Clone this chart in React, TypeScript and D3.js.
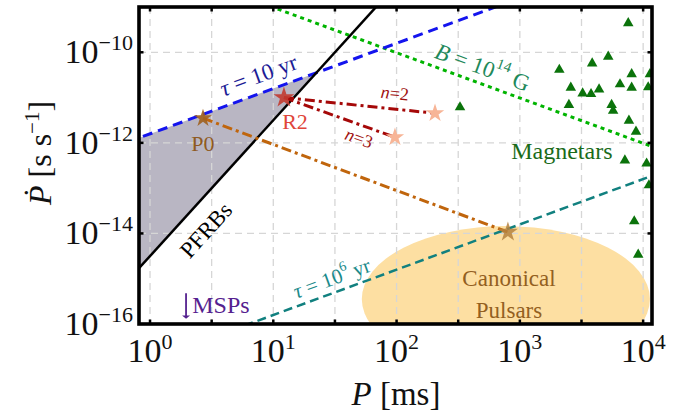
import React from 'react';
import * as d3 from 'd3';

// axis ranges (P in ms, Pdot in s/s)
const xDomain = [0.814, 11800];
const yDomain = [1e-16, 1e-9];
const xGridP = [1, 3.162, 10, 31.62, 100, 316.2, 1000, 3162, 10000];
const xTickExp = [0, 1, 2, 3, 4];
const yGridPdot = [1e-14, 1e-12, 1e-10];
const yTickExp = [-16, -14, -12, -10];

// reference lines, endpoints
const tau10P = [0.5, 1000];
const tau10Pdot = [7.9e-13, 1.58e-9];
const tau6P = [0.5, 20000];
const tau6Pdot = [7.9e-18, 3.17e-13];
const bFieldP = [1, 20000];
const bFieldPdot = [9.77e-9, 4.9e-13];
const pfrbP = [0.5, 100];
const pfrbPdot = [3.95e-16, 3.16e-9];
const shadeP = [0.5, 0.5, 22.4];
const shadePdot = [3.95e-16, 7.9e-13, 3.55e-11];

// canonical pulsar blob: left, centre, right in P; centre and top in Pdot
const blobP = [52, 770, 11300];
const blobPdot = [3.55e-16, 1.45e-14];

// evolution tracks
const p0TrackP = [2.69, 800];
const p0TrackPdot = [3.5e-12, 1.07e-14];
const n2TrackP = [12.2, 205];
const n2TrackPdot = [1.0e-11, 4.5e-12];
const n3TrackP = [12.2, 97];
const n3TrackPdot = [1.0e-11, 1.33e-12];

// magnetars
const magP = [7570, 5210, 3860, 2090, 8070, 11350, 2590, 6490, 8070, 10990, 3230, 3780,
  4390, 2500, 5550, 5710, 327, 7670, 8750, 7110, 10670, 11140, 8470, 9120];
const magPdot = [4.4e-10, 8.0e-11, 5.7e-11, 4.1e-11, 3.3e-11, 3.3e-11, 1.66e-11, 1.97e-11,
  1.66e-11, 1.69e-11, 1.24e-11, 1.2e-11, 1.52e-11, 6.9e-12, 6.9e-12, 5.1e-12, 6.1e-12,
  3.1e-12, 1.77e-12, 4.1e-13, 3.5e-13, 1.16e-13, 1.86e-14, 3.4e-15];

const FONT = '"Liberation Serif", "DejaVu Serif", serif';
const L = 139, R = 652, T = 7, B = 324;

const x = d3.scaleLog().domain(xDomain).range([L, R]);
const y = d3.scaleLog().domain(yDomain).range([B, T]);
const pts = (P: number[], D: number[]) => P.map((p, i) => [x(p), y(D[i])] as [number, number]);
const line = d3.line();
const angle = (P: number[], D: number[]) => {
  const [a, b] = pts(P, D);
  return (Math.atan2(b[1] - a[1], b[0] - a[0]) * 180) / Math.PI;
};
const star = d3.symbol().type(d3.symbolStar);
const tri = d3.symbol().type(d3.symbolTriangle).size(48)();

const Label = ({ p, d, rot = 0, color, size, children, anchor = 'middle' }: any) => (
  <text
    transform={`translate(${x(p)},${y(d)}) rotate(${rot})`}
    textAnchor={anchor}
    dominantBaseline="central"
    fill={color}
    fontSize={size}
    fontFamily={FONT}
  >
    {children}
  </text>
);

export default function App() {
  const tauAng = angle(tau10P, tau10Pdot);
  const bAng = angle(bFieldP, bFieldPdot);
  const pfrbAng = angle(pfrbP, pfrbPdot);
  const n3Ang = angle(n3TrackP, n3TrackPdot);
  const n2Ang = angle(n2TrackP, n2TrackPdot);

  const cx = x(blobP[1]);
  const rx = (x(blobP[2]) - x(blobP[0])) / 2;
  const cy = y(blobPdot[0]);
  const ry = cy - y(blobPdot[1]);

  return (
    <svg width={694} height={418} style={{ position: 'absolute', left: 0, top: 0 }}>
      <defs>
        <clipPath id="plot">
          <rect x={L} y={T} width={R - L} height={B - T} />
        </clipPath>
      </defs>
      <g clipPath="url(#plot)">
        <ellipse cx={cx} cy={cy} rx={rx} ry={ry} fill="#fddfa2" />
        <path d={line(pts(shadeP, shadePdot)) + 'Z'} fill="#b9b6c3" />
        {/* grid */}
        {xGridP.map((p) => (
          <line key={p} x1={x(p)} x2={x(p)} y1={T} y2={B} stroke="#d6d6d6" strokeWidth={1.3} strokeDasharray="7,5" />
        ))}
        {yGridPdot.map((d) => (
          <line key={d} x1={L} x2={R} y1={y(d)} y2={y(d)} stroke="#d6d6d6" strokeWidth={1.3} strokeDasharray="7,5" />
        ))}
        <path d={line(pts(tau6P, tau6Pdot))!} stroke="#11807f" strokeWidth={2.5} strokeDasharray="9,5" fill="none" />
        <path d={line(pts(bFieldP, bFieldPdot))!} stroke="#00b400" strokeWidth={3} strokeDasharray="4,4" fill="none" />
        <path d={line(pts(tau10P, tau10Pdot))!} stroke="#1414ee" strokeWidth={3} strokeDasharray="10,6" fill="none" />
        <path d={line(pts(pfrbP, pfrbPdot))!} stroke="#000" strokeWidth={2.5} fill="none" />
        <path d={line(pts(p0TrackP, p0TrackPdot))!} stroke="#c0650c" strokeWidth={3} strokeDasharray="10,4,3,4" fill="none" />
        <path d={line(pts(n2TrackP, n2TrackPdot))!} stroke="#a50808" strokeWidth={3} strokeDasharray="10,4,3,4" fill="none" />
        <path d={line(pts(n3TrackP, n3TrackPdot))!} stroke="#a50808" strokeWidth={3} strokeDasharray="10,4,3,4" fill="none" />
        {magP.map((p, i) => (
          <path key={i} d={tri!} transform={`translate(${x(p)},${y(magPdot[i])})`} fill="#0b730b" />
        ))}
        <path d={star.size(101)()!} transform={`translate(${x(p0TrackP[0])},${y(p0TrackPdot[0])})`} fill="#a0601e" fillOpacity={0.9} />
        <path d={star.size(124)()!} transform={`translate(${x(p0TrackP[1])},${y(p0TrackPdot[1])})`} fill="#b5823f" fillOpacity={0.85} />
        <path d={star.size(136)()!} transform={`translate(${x(n2TrackP[0])},${y(n2TrackPdot[0])})`} fill="#c23b30" fillOpacity={0.9} />
        <path d={star.size(105)()!} transform={`translate(${x(n2TrackP[1])},${y(n2TrackPdot[1])})`} fill="#f7b597" />
        <path d={star.size(105)()!} transform={`translate(${x(n3TrackP[1])},${y(n3TrackPdot[1])})`} fill="#f7b597" />

        <Label p={7.6} d={3.1e-11} rot={tauAng} color="#1c1c96" size={23}>
          <tspan fontStyle="italic">τ</tspan> = 10 yr
        </Label>
        <Label p={500} d={4.7e-11} rot={bAng} color="#22895a" size={23}>
          <tspan fontStyle="italic">B</tspan> = 10<tspan dy={-9} fontSize={15}>14</tspan><tspan dy={9}> G</tspan>
        </Label>
        <Label p={2190} d={6.6e-13} color="#1a6b1a" size={24}>Magnetars</Label>
        <Label p={2.85} d={1.17e-14} rot={pfrbAng} color="#000" size={23}>PFRBs</Label>
        <Label p={29.9} d={1.02e-15} rot={tauAng} color="#1a8a8a" size={21}>
          <tspan fontStyle="italic">τ</tspan> = 10<tspan dy={-8} fontSize={14}>6</tspan><tspan dy={8}> yr</tspan>
        </Label>
        <Label p={816} d={1.02e-15} color="#93601f" size={23}>Canonical</Label>
        <Label p={816} d={1.95e-16} color="#93601f" size={23}>Pulsars</Label>
        <Label p={2.69} d={9.5e-13} color="#8f5a22" size={22}>P0</Label>
        <Label p={15.0} d={3.0e-12} color="#e0453a" size={22}>R2</Label>
        <Label p={97} d={1.24e-11} rot={n2Ang} color="#a01010" size={18}>
          <tspan fontStyle="italic">n</tspan>=2
        </Label>
        <Label p={49.5} d={1.27e-12} rot={n3Ang} color="#a01010" size={18}>
          <tspan fontStyle="italic">n</tspan>=3
        </Label>
        {/* MSPs arrow */}
        <line x1={x(1.96)} x2={x(1.96)} y1={y(4.8e-16)} y2={y(1.5e-16)} stroke="#55218f" strokeWidth={1.8} />
        <path d={`M${x(1.96) - 4},${y(1.55e-16)} L${x(1.96) + 4},${y(1.55e-16)} L${x(1.96)},${y(1.3e-16)} Z`} fill="#55218f" />
        <Label p={2.2} d={2.6e-16} color="#55218f" size={24} anchor="start">MSPs</Label>
      </g>
      {/* frame and ticks */}
      <rect x={L} y={T} width={R - L} height={B - T} fill="none" stroke="#000" strokeWidth={3.6} />
      {xGridP.map((p) => (
        <g key={p}>
          <line x1={x(p)} x2={x(p)} y1={T} y2={T + 4.5} stroke="#000" strokeWidth={2.5} />
          <line x1={x(p)} x2={x(p)} y1={B} y2={B - 4.5} stroke="#000" strokeWidth={2.5} />
        </g>
      ))}
      {yGridPdot.map((d) => (
        <g key={d}>
          <line x1={L} x2={L + 4.5} y1={y(d)} y2={y(d)} stroke="#000" strokeWidth={2.5} />
          <line x1={R} x2={R - 4.5} y1={y(d)} y2={y(d)} stroke="#000" strokeWidth={2.5} />
        </g>
      ))}
      {xTickExp.map((e) => (
        <text key={e} x={x(Math.pow(10, e))} y={362} textAnchor="middle" fontSize={34} fontFamily={FONT} fill="#111">
          10<tspan dy={-13} fontSize={22}>{e}</tspan>
        </text>
      ))}
      {yTickExp.map((e) => (
        <text key={e} x={133} y={y(Math.pow(10, e)) + 11} textAnchor="end" fontSize={34} fontFamily={FONT} fill="#111">
          10<tspan dy={-13} fontSize={22}>{'\u2212' + Math.abs(e)}</tspan>
        </text>
      ))}
      <text transform="translate(51,205) rotate(-90)" textAnchor="start" fontSize={32} fontFamily={FONT} fill="#111">
        <tspan fontStyle="italic">Ṗ</tspan> [s s<tspan dy={-12} fontSize={21}>−1</tspan><tspan dy={12}>]</tspan>
      </text>
      <text x={396} y={405} textAnchor="middle" fontSize={33} fontFamily={FONT} fill="#111">
        <tspan fontStyle="italic">P</tspan> [ms]
      </text>
    </svg>
  );
}
